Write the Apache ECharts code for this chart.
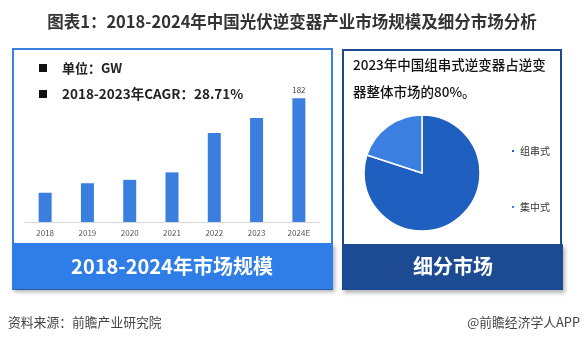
<!DOCTYPE html>
<html><head><meta charset="utf-8">
<script src="https://cdn.jsdelivr.net/npm/echarts@6/dist/echarts.min.js"></script>
<style>html,body{margin:0;padding:0;background:#fff}#c{width:584px;height:342px}</style>
</head><body><div id="c"></div>
<script>
var categories = ['2018','2019','2020','2021','2022','2023','2024E'];
var capacity = [43, 57, 62, 73, 131, 153, 182];
var pieNames = ['组串式','集中式'];
var pieValues = [80, 20];
var FONT = '"Noto Sans CJK SC", "Noto Sans", sans-serif';

var chart = echarts.init(document.getElementById('c'), null, {renderer:'canvas'});
chart.setOption({
  animation:false,
  textStyle:{fontFamily:FONT},
  title:{text:'图表1：2018-2024年中国光伏逆变器产业市场规模及细分市场分析', left:'center', top:8,
    textStyle:{fontFamily:FONT, fontSize:16.5, fontWeight:'bold', color:'#333'}},
  graphic:[
    {type:'rect', z:0, shape:{x:13,y:49,width:319,height:240}, style:{fill:'#fff', stroke:'#3a80e0', lineWidth:2}},
    {type:'rect', z:1, shape:{x:12,y:243,width:321,height:46}, style:{fill:'#2f7de6', shadowBlur:4, shadowOffsetX:2, shadowOffsetY:3, shadowColor:'rgba(0,0,0,0.3)'}},
    {type:'text', z:2, style:{x:172, y:266, text:'2018-2024年市场规模', fill:'#fff', font:'bold 20px '+FONT, textAlign:'center', textVerticalAlign:'middle'}},
    {type:'rect', z:0, shape:{x:343,y:50,width:218,height:239}, style:{fill:'#fff', stroke:'#1d4a8c', lineWidth:2}},
    {type:'rect', z:1, shape:{x:342,y:244,width:221,height:46}, style:{fill:'#1c4b94', shadowBlur:4, shadowOffsetX:2, shadowOffsetY:3, shadowColor:'rgba(0,0,0,0.3)'}},
    {type:'text', z:2, style:{x:453, y:266, text:'细分市场', fill:'#fff', font:'bold 20px '+FONT, textAlign:'center', textVerticalAlign:'middle'}},
    {type:'rect', z:2, shape:{x:39,y:64,width:8,height:8}, style:{fill:'#111'}},
    {type:'text', z:2, style:{x:62, y:68, text:'单位：GW', fill:'#222', font:'bold 13px '+FONT, textVerticalAlign:'middle'}},
    {type:'rect', z:2, shape:{x:39,y:90,width:8,height:8}, style:{fill:'#111'}},
    {type:'text', z:2, style:{x:62, y:94, text:'2018-2023年CAGR：28.71%', fill:'#222', font:'bold 13.5px '+FONT, textVerticalAlign:'middle'}},
    {type:'text', z:2, style:{x:353, y:65, text:'2023年中国组串式逆变器占逆变', fill:'#111', font:'500 13.5px '+FONT, textVerticalAlign:'middle'}},
    {type:'text', z:2, style:{x:353, y:92, text:'器整体市场的80%。', fill:'#111', font:'500 13.5px '+FONT, textVerticalAlign:'middle'}},
    {type:'text', z:2, style:{x:8, y:322, text:'资料来源：前瞻产业研究院', fill:'#444', font:'12.8px '+FONT, textVerticalAlign:'middle'}},
    {type:'text', z:2, style:{x:580, y:322, text:'@前瞻经济学人APP', fill:'#444', font:'12.8px '+FONT, textAlign:'right', textVerticalAlign:'middle'}}
  ],
  grid:{left:24, right:264, top:86, bottom:120},
  xAxis:{type:'category', data:categories,
    axisLine:{lineStyle:{color:'#d9d9d9'}}, axisTick:{show:false},
    axisLabel:{color:'#555', fontSize:8, margin:7}},
  yAxis:{type:'value', min:0, max:200, show:false, splitLine:{show:false}},
  legend:{orient:'vertical', left:505, top:141, itemGap:46, icon:'rect', itemWidth:4, itemHeight:4,
    textStyle:{fontSize:10, color:'#333', fontFamily:FONT}, data:pieNames},
  series:[
    {type:'bar', z:3, data:capacity, barWidth:13, itemStyle:{color:'#3a7fe0'},
      label:{show:true, position:'top', fontSize:8, color:'#444', distance:4,
        formatter:function(p){return p.dataIndex===capacity.length-1 ? p.value : '';}}},
    {type:'pie', z:3, center:[422,173], radius:58, startAngle:90, clockwise:true,
      label:{show:false}, labelLine:{show:false},
      itemStyle:{borderColor:'#fff', borderWidth:1.5},
      data:pieNames.map(function(n,i){return {name:n, value:pieValues[i], itemStyle:{color:i===0?'#1f5fbf':'#3b80e0'}};})}
  ]
});
</script></body></html>
